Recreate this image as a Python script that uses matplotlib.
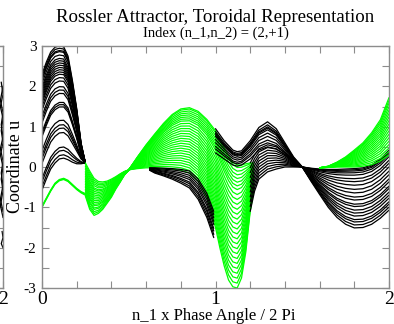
import numpy as np
import matplotlib
matplotlib.use('Agg')
import matplotlib.pyplot as plt
from matplotlib.ticker import MultipleLocator, FixedFormatter, FixedLocator

plt.rcParams['font.family'] = ['Liberation Serif', 'DejaVu Serif']

BLACK = '#000000'
GREEN = '#00ff00'
FRAME = '#8c8c8c'

# Each band: knot x positions, top and bottom curve,
# and where the individual curves sit between them (0 = bottom, 1 = top)

# black hump, 0 .. 0.25
a_x = [0, 0.025, 0.05, 0.075, 0.1, 0.125, 0.15, 0.175, 0.2, 0.225, 0.25]
a_top = [2.3, 2.6, 2.85, 2.97, 3.0, 2.98, 2.75, 2.15, 1.45, 0.6, 0.1]
a_bot = [-0.57, -0.3, -0.05, 0.1, 0.2, 0.22, 0.18, 0.12, 0.08, 0.08, 0.1]
a_frac = [0, 0.03, 0.07, 0.1, 0.23, 0.27, 0.3, 0.34, 0.46, 0.48, 0.5, 0.58, 0.61,
          0.64, 0.69, 0.72, 0.75, 0.77, 0.79, 0.81, 0.83, 0.85, 0.87, 0.89, 0.92,
          0.95, 0.96, 0.98, 1.0]

# single green arc under the hump
g0_x = [0, 0.025, 0.05, 0.075, 0.1, 0.125, 0.15, 0.175, 0.2, 0.225, 0.25]
g0_top = [-0.97, -0.77, -0.57, -0.4, -0.31, -0.28, -0.33, -0.43, -0.53, -0.61, -0.66]
g0_bot = [-1.0, -0.8, -0.6, -0.43, -0.34, -0.31, -0.36, -0.46, -0.56, -0.64, -0.7]
g0_frac = [0, 0.5, 1.0]

# green dip, 0.25 .. 0.5
b_x = [0.25, 0.275, 0.3, 0.325, 0.35, 0.375, 0.4, 0.425, 0.45, 0.475, 0.5]
b_top = [0.1, -0.1, -0.28, -0.36, -0.37, -0.35, -0.3, -0.24, -0.17, -0.11, -0.07]
b_bot = [-0.72, -1.05, -1.2, -1.15, -1.05, -0.9, -0.75, -0.55, -0.38, -0.2, -0.08]
b_frac = [0, 0.05, 0.1, 0.16, 0.2, 0.26, 0.3, 0.35, 0.4, 0.45, 0.5, 0.55, 0.6,
          0.65, 0.7, 0.74, 0.8, 0.85, 0.9, 0.95, 1.0]

# green hump and deep trough, 0.5 .. 1.2
c_x = [0.5, 0.55, 0.6, 0.65, 0.7, 0.75, 0.8, 0.85, 0.9, 0.95, 1.0, 1.025, 1.05,
       1.075, 1.1, 1.125, 1.15, 1.175, 1.2, 1.22]
c_top = [-0.07, 0.25, 0.55, 0.82, 1.08, 1.3, 1.44, 1.47, 1.38, 1.18, 0.9, 0.7,
         0.48, 0.28, 0.12, 0.05, 0.05, 0.08, 0.1, 0.1]
c_bot = [-0.07, -0.04, -0.02, -0.02, -0.03, -0.05, -0.08, -0.15, -0.35, -0.75,
         -1.5, -2.0, -2.45, -2.8, -2.97, -3.0, -2.75, -2.1, -1.1, -0.6]
c_frac = [0, 0.04, 0.08, 0.12, 0.16, 0.2, 0.24, 0.28, 0.32, 0.36, 0.4, 0.44, 0.48,
          0.52, 0.56, 0.6, 0.64, 0.68, 0.72, 0.76, 0.8, 0.83, 0.86, 0.89, 0.92,
          0.95, 0.98, 1.0]

# black falling band, 0.62 .. 1.0
d_x = [0.62, 0.65, 0.7, 0.75, 0.8, 0.85, 0.9, 0.95, 0.99]
d_top = [-0.02, -0.02, -0.03, -0.04, -0.06, -0.1, -0.3, -0.65, -1.1]
d_bot = [-0.08, -0.15, -0.22, -0.3, -0.4, -0.52, -0.8, -1.25, -1.75]
d_frac = [0, 0.12, 0.25, 0.35, 0.5, 0.62, 0.75, 0.88, 1.0]

# black upper band, 1.0 .. 1.5
f_x = [1.0, 1.05, 1.1, 1.125, 1.15, 1.2, 1.25, 1.3, 1.35, 1.4, 1.45, 1.5]
f_top = [0.95, 0.65, 0.42, 0.38, 0.4, 0.65, 0.98, 1.12, 0.95, 0.6, 0.25, 0.0]
f_bot = [0.35, 0.2, 0.05, 0.02, 0.05, 0.2, 0.42, 0.5, 0.45, 0.3, 0.12, 0.0]
f_frac = [0, 0.16, 0.27, 0.42, 0.55, 0.68, 0.75, 0.8, 0.88, 1.0]

# black band rising out of the trough, 1.2 .. 1.5
e_x = [1.2, 1.225, 1.25, 1.3, 1.35, 1.4, 1.45, 1.5]
e_top = [0.1, 0.3, 0.45, 0.55, 0.5, 0.35, 0.15, 0.0]
e_bot = [-1.1, -0.6, -0.3, -0.12, -0.05, 0.0, 0.0, 0.0]
e_frac = [0, 0.1, 0.2, 0.3, 0.4, 0.5, 0.6, 0.7, 0.8, 0.9, 1.0]

# black fan, 1.5 .. 2.0
g_x = [1.5, 1.55, 1.6, 1.65, 1.7, 1.75, 1.8, 1.85, 1.9, 1.95, 2.0]
g_top = [0.0, -0.03, -0.05, -0.06, -0.06, -0.05, -0.04, -0.02, 0.05, 0.2, 0.42]
g_bot = [0.0, -0.35, -0.68, -1.0, -1.25, -1.42, -1.51, -1.5, -1.42, -1.27, -1.07]
g_frac = [0, 0.05, 0.1, 0.14, 0.2, 0.25, 0.3, 0.36, 0.4, 0.47, 0.52, 0.59, 0.65,
          0.72, 0.78, 0.83, 0.89, 0.93, 0.96, 0.98, 1.0]

# green wedge, 1.6 .. 2.0
h_x = [1.6, 1.65, 1.7, 1.75, 1.8, 1.85, 1.9, 1.95, 2.0]
h_top = [-0.02, 0.02, 0.12, 0.25, 0.42, 0.6, 0.85, 1.17, 1.72]
h_bot = [-0.02, -0.01, 0.0, 0.0, 0.0, 0.02, 0.06, 0.15, 0.3]
h_frac = [0, 0.06, 0.12, 0.18, 0.24, 0.3, 0.36, 0.42, 0.48, 0.54, 0.6, 0.66,
          0.72, 0.78, 0.84, 0.9, 0.95, 1.0]

# scribbles at the right edge of the neighbouring panel
left_x1 = [1.99, 2.0, 1.985, 2.0, 1.99, 2.0, 1.985, 2.0, 1.99, 2.0, 1.985, 2.0]
left_y1 = [2.1, 1.8, 1.5, 1.2, 0.9, 0.6, 0.3, 0.0, -0.3, -0.6, -0.95, -1.25]
left_x2 = [2.0, 1.985, 2.0, 1.99, 2.0, 1.985, 2.0, 1.99, 2.0, 1.985, 2.0]
left_y2 = [2.0, 1.65, 1.35, 1.05, 0.75, 0.45, 0.15, -0.15, -0.45, -0.8, -1.1]
left_x3 = [1.995, 2.0, 1.99, 2.0]
left_y3 = [-1.6, -1.75, -1.9, -2.0]

y_ticks = [-3, -2, -1, 0, 1, 2, 3]
y_ticklabels = ['-3', '-2', '-1', '0', '1', '2', '3']
x_ticks = [0, 1, 2]
x_ticklabels = ['0', '1', '2']


def draw_band(ax, xs, top, bot, fracs, color):
    top = np.array(top)
    bot = np.array(bot)
    for f in fracs:
        ax.plot(xs, bot + f * (top - bot), color=color, lw=0.9,
                solid_joinstyle='round', solid_capstyle='round')


def style_axes(ax, xt, xl, yt, yl):
    ax.set_xlim(0, 2)
    ax.set_ylim(-3, 3)
    for s in ax.spines.values():
        s.set_color(FRAME)
        s.set_linewidth(1.0)
    ax.xaxis.set_major_locator(FixedLocator(xt))
    ax.xaxis.set_major_formatter(FixedFormatter(xl))
    ax.xaxis.set_minor_locator(MultipleLocator(0.2))
    ax.yaxis.set_major_locator(FixedLocator(yt))
    ax.yaxis.set_major_formatter(FixedFormatter(yl))
    ax.yaxis.set_minor_locator(MultipleLocator(0.5))
    ax.tick_params(which='both', direction='in', top=True, right=True,
                   length=5, width=0.8, color=FRAME)
    ax.tick_params(axis='x', labelsize=14, pad=2)
    ax.tick_params(axis='y', labelsize=11, pad=4)


fig = plt.figure(figsize=(3.94, 3.24), dpi=100)
ax = fig.add_axes([42 / 394, 36 / 324, 347 / 394, 242 / 324])
axl = fig.add_axes([-344 / 394, 36 / 324, 347 / 394, 242 / 324])

style_axes(ax, x_ticks, x_ticklabels, y_ticks, y_ticklabels)
# the neighbouring panel only shows its last x label
style_axes(axl, [2], ['2'], y_ticks, [''] * len(y_ticks))
axl.plot(left_x1, left_y1, color=BLACK, lw=0.9)
axl.plot(left_x2, left_y2, color=BLACK, lw=0.9)
axl.plot(left_x3, left_y3, color=BLACK, lw=0.9)

draw_band(ax, a_x, a_top, a_bot, a_frac, BLACK)
draw_band(ax, g0_x, g0_top, g0_bot, g0_frac, GREEN)
draw_band(ax, b_x, b_top, b_bot, b_frac, GREEN)
draw_band(ax, c_x, c_top, c_bot, c_frac, GREEN)
draw_band(ax, d_x, d_top, d_bot, d_frac, BLACK)
draw_band(ax, f_x, f_top, f_bot, f_frac, BLACK)
draw_band(ax, e_x, e_top, e_bot, e_frac, BLACK)
draw_band(ax, g_x, g_top, g_bot, g_frac, BLACK)
draw_band(ax, h_x, h_top, h_bot, h_frac, GREEN)

fig.text(215 / 394, 1 - 18 / 324, 'Rossler Attractor, Toroidal Representation',
         ha='center', va='center', fontsize=13.6)
fig.text(216 / 394, 1 - 33 / 324, 'Index (n_1,n_2) = (2,+1)',
         ha='center', va='center', fontsize=10.5)
fig.text(214 / 394, 1 - 316 / 324, 'n_1 x Phase Angle / 2 Pi',
         ha='center', va='center', fontsize=12)
fig.text(15 / 394, 1 - 166 / 324, 'Coordinate u', rotation=90,
         ha='center', va='center', fontsize=13)

fig.savefig('out.png', dpi=100)
